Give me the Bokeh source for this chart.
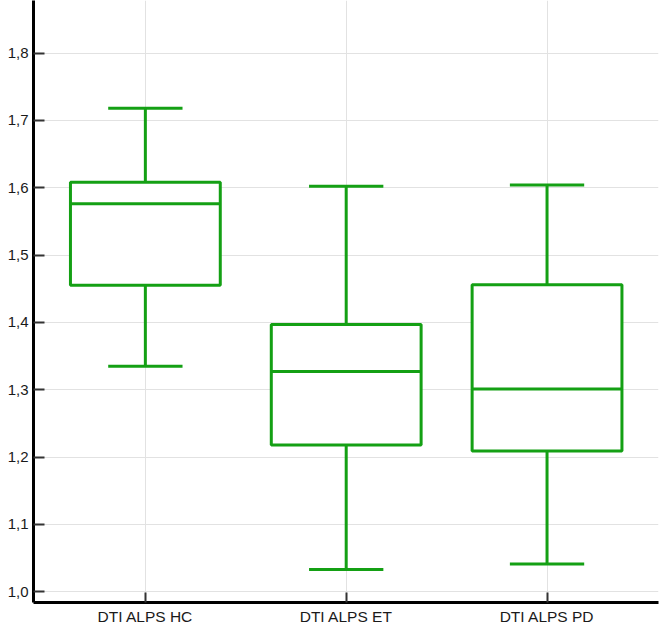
from bokeh.plotting import figure
from bokeh.models import Range1d, FixedTicker, CustomJSTickFormatter, ColumnDataSource
from bokeh.embed import file_html
from bokeh.resources import INLINE

# Data
categories = ["DTI ALPS HC", "DTI ALPS ET", "DTI ALPS PD"]
lower_whisker = [1.335, 1.033, 1.041]
q1 = [1.455, 1.218, 1.209]
median = [1.576, 1.327, 1.301]
q3 = [1.608, 1.397, 1.456]
upper_whisker = [1.718, 1.602, 1.604]

y_major = [1.0, 1.1, 1.2, 1.3, 1.4, 1.5, 1.6, 1.7, 1.8]
y_minor = [1.05, 1.15, 1.25, 1.35, 1.45, 1.55, 1.65, 1.75, 1.85]

GREEN = "#14a014"
BOX_W = 0.746
CAP_W = 0.37

xs = [i + 1 for i in range(len(categories))]
src = ColumnDataSource(dict(
    x=xs,
    lo=lower_whisker, q1=q1, med=median, q3=q3, hi=upper_whisker,
    bl=[x - BOX_W / 2 for x in xs], br=[x + BOX_W / 2 for x in xs],
    cl=[x - CAP_W / 2 for x in xs], cr=[x + CAP_W / 2 for x in xs],
))

p = figure(width=662, height=631, output_backend="svg", toolbar_location=None,
           x_range=Range1d(0.443, 3.555), y_range=Range1d(0.984, 1.878),
           min_border_left=33, min_border_right=4, min_border_top=0, min_border_bottom=29)
p.outline_line_color = None
p.background_fill_color = "white"
p.border_fill_color = "white"

# whiskers
p.segment(x0="x", y0="q3", x1="x", y1="hi", source=src, line_color=GREEN, line_width=3)
p.segment(x0="x", y0="q1", x1="x", y1="lo", source=src, line_color=GREEN, line_width=3)
p.segment(x0="cl", y0="hi", x1="cr", y1="hi", source=src, line_color=GREEN, line_width=3)
p.segment(x0="cl", y0="lo", x1="cr", y1="lo", source=src, line_color=GREEN, line_width=3)
# boxes
p.vbar(x="x", width=BOX_W, bottom="q1", top="q3", source=src,
       fill_color="white", line_color=GREEN, line_width=3)
p.segment(x0="bl", y0="med", x1="br", y1="med", source=src, line_color=GREEN, line_width=3)

# x axis
p.xaxis.ticker = FixedTicker(ticks=xs)
p.xaxis.major_label_overrides = {x: c for x, c in zip(xs, categories)}
p.xaxis.major_tick_in = 10
p.xaxis.major_tick_out = 0
p.xaxis.major_label_standoff = 5

# y axis
p.yaxis.ticker = FixedTicker(ticks=y_major, minor_ticks=y_minor)
p.yaxis.formatter = CustomJSTickFormatter(code="return tick.toFixed(1).replace('.', ',');")
p.yaxis.major_tick_in = 11
p.yaxis.major_tick_out = 0
p.yaxis.minor_tick_in = 7
p.yaxis.minor_tick_out = 0
p.yaxis.major_label_standoff = 5

for ax in (p.xaxis, p.yaxis):
    ax.axis_line_color = "black"
    ax.axis_line_width = 3
    ax.major_tick_line_color = "#333333"
    ax.major_tick_line_width = 2
    ax.minor_tick_line_color = "#333333" if ax is p.yaxis else None
    ax.minor_tick_line_width = 2
    ax.major_label_text_font = "Liberation Sans"
    ax.major_label_text_color = "#1a1a1a"
p.xaxis.major_label_text_font_size = "15.5px"
p.yaxis.major_label_text_font_size = "15px"

p.xgrid.grid_line_color = "#e2e2e2"
p.ygrid.grid_line_color = "#e2e2e2"
p.xgrid.grid_line_width = 1
p.ygrid.grid_line_width = 1

open("out.html", "w").write(file_html(p, INLINE))
